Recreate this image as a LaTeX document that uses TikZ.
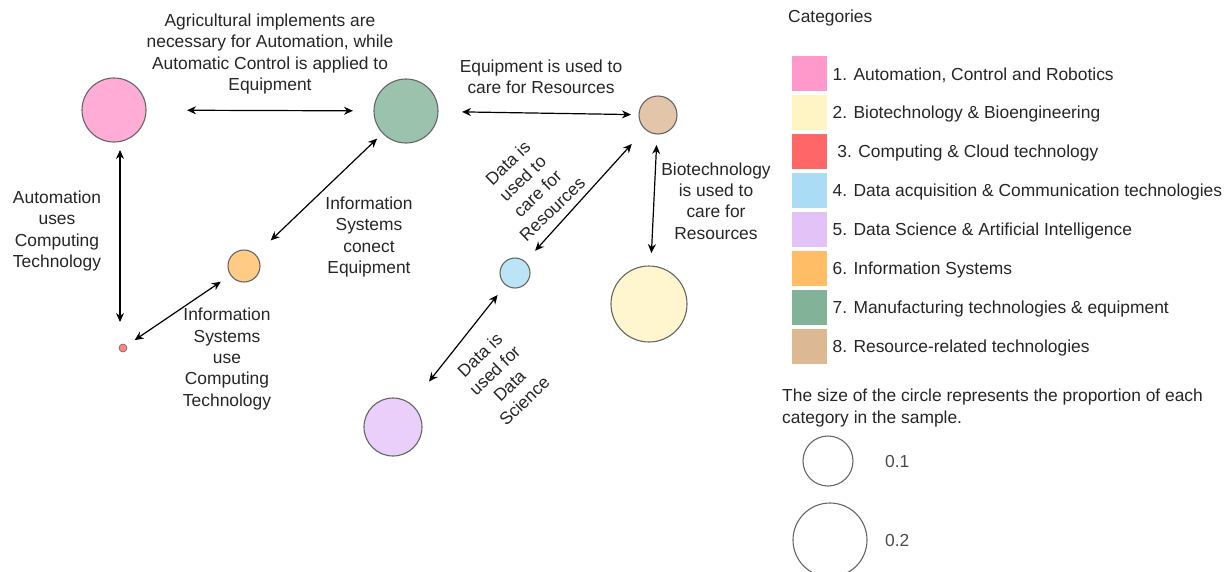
\documentclass[tikz,border=0pt]{standalone}
\usepackage{fontspec}
\setmainfont{Liberation Sans}
\usetikzlibrary{arrows.meta,positioning}

% category colours
\definecolor{autoPink}{HTML}{FF99CC}
\definecolor{bioYellow}{HTML}{FFF4C4}
\definecolor{compRed}{HTML}{FF6666}
\definecolor{dataBlue}{HTML}{AADDF5}
\definecolor{aiLilac}{HTML}{E3C3F7}
\definecolor{infoOrange}{HTML}{FFBE66}
\definecolor{equipGreen}{HTML}{82B398}
\definecolor{resTan}{HTML}{DCB893}

\begin{document}
\begin{tikzpicture}[x=1pt,y=-1pt,
		font=\fontsize{17.4}{21.3}\selectfont,
		cat/.style={circle,draw=black!60,line width=1.1pt,inner sep=0pt,outer sep=0pt},
		link/.style={{Stealth[length=9pt,width=8pt]}-{Stealth[length=9pt,width=8pt]},line width=1.2pt},
		lbl/.style={align=center,text=black!85,inner sep=0pt},
		swatch/.style={minimum size=36pt,inner sep=0pt,draw=white,line width=0.8pt}]
		\useasboundingbox (0,0) rectangle (1231,571);

		% circles, size = share of the category
		\node[cat,fill=autoPink!80!white,minimum size=64pt] (auto) at (114,110) {};
		\node[cat,fill=equipGreen!80!white,minimum size=64pt] (equip) at (406,111) {};
		\node[cat,fill=resTan!80!white,minimum size=38pt] (res) at (658,115) {};
		\node[cat,fill=infoOrange!80!white,minimum size=32pt] (info) at (244,266) {};
		\node[cat,fill=compRed!80!white,minimum size=8pt,line width=0.6pt] (comp) at (123,348) {};
		\node[cat,fill=dataBlue!80!white,minimum size=30pt] (data) at (515,273) {};
		\node[cat,fill=bioYellow!80!white,minimum size=76pt] (bio) at (649,304) {};
		\node[cat,fill=aiLilac!80!white,minimum size=58pt] (ai) at (393,427) {};

		% relations
		\draw[link,shorten <=41pt,shorten >=21pt] (auto) -- (equip);
		\draw[link,shorten <=24pt,shorten >=8pt] (equip) -- (res);
		\draw[link,shorten <=8pt,shorten >=22pt] ([xshift=6pt]auto.south) -- ([xshift=-3pt]comp.north);
		\draw[link,shorten <=10pt,shorten >=12pt] (comp) -- (info);
		\draw[link,shorten <=21pt,shorten >=8pt] (info) -- (equip);
		\draw[link,shorten <=15pt,shorten >=20pt] (data) -- (res);
		\draw[link,shorten <=11pt,shorten >=13pt] (res) -- (bio);
		\draw[link,shorten <=29pt,shorten >=13pt] (ai) -- (data);

		\node[lbl] (autoEquip) at (270,54) {Agricultural implements are\\necessary for Automation, while\\Automatic Control is applied to\\Equipment};
		\node[lbl] (equipRes) at (541,77) {Equipment is used to\\care for Resources};
		\node[lbl] (autoComp) at (57,231) {Automation\\uses\\Computing\\Technology};
		\node[lbl] (infoEquip) at (369,237) {Information\\Systems\\conect\\Equipment};
		\node[lbl] (infoComp) at (227,359) {Information\\Systems\\use\\Computing\\Technology};
		\node[lbl] (resBio) at (716,201) {Biotechnology\\is used to\\care for\\Resources};
		\node[lbl,rotate=44] (dataRes) at (530,186) {Data is\\used to\\care for\\Resources};
		\node[lbl,rotate=44] (dataAi) at (502,378) {Data is\\used for\\Data\\Science};

		% legend
		\node[lbl,anchor=west] (catTitle) at (788,18) {Categories};
		\foreach \i/\col/\txt in {1/autoPink/{1. Automation, Control and Robotics},
				2/bioYellow/{2. Biotechnology \& Bioengineering},
				3/compRed/{\ 3. Computing \& Cloud technology},
				4/dataBlue/{4. Data acquisition \& Communication technologies},
				5/aiLilac/{5. Data Science \& Artificial Intelligence},
				6/infoOrange/{6. Information Systems},
				7/equipGreen/{7. Manufacturing technologies \& equipment},
				8/resTan/{8. Resource-related technologies}}{
			\node[swatch,fill=\col] (sw\i) at (809,{34+39*\i}) {};
			\node[lbl,anchor=west] (key\i) at ([xshift=5pt,yshift=-2pt]sw\i.east) {\txt};
		}
		\node[lbl,anchor=west,align=left] (sizeNote) at (782,408) {The size of the circle represents the proportion of each\\category in the sample.};
		\node[cat,minimum size=50pt] (size1) at (828,461) {};
		\node[cat,minimum size=74pt] (size2) at (830,540) {};
		\node[lbl,anchor=west,text=black!70] (sizeVal1) at (885,462) {0.1};
		\node[lbl,anchor=west,text=black!70] (sizeVal2) at (885,540) {0.2};
	\end{tikzpicture}
\end{document}
